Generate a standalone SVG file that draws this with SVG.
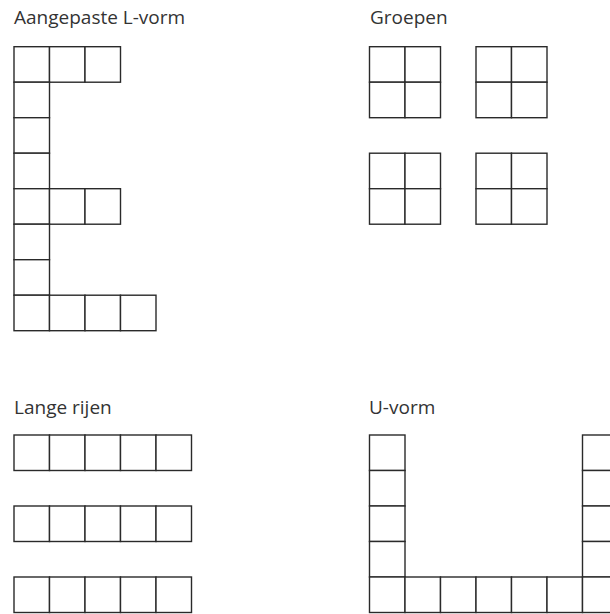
<svg xmlns="http://www.w3.org/2000/svg" xmlns:xlink="http://www.w3.org/1999/xlink" width="610" height="614" viewBox="0 0 610 614">
<style>
.c{fill:#fff;stroke:#2a2a2a;stroke-width:1.4}
.t{font-family:"Open Sans","Noto Sans",sans-serif;font-size:19px;fill:#333}
</style>
<defs>
<rect id="cell" class="c" width="35.5" height="35.5"/>
</defs>
<rect width="610" height="614" fill="#fff"/>
<g id="l-vorm">
<text class="t" x="14" y="24">Aangepaste L-vorm</text>
<use xlink:href="#cell" x="14" y="46.7"/><use xlink:href="#cell" x="49.5" y="46.7"/><use xlink:href="#cell" x="85" y="46.7"/>
<use xlink:href="#cell" x="14" y="82.2"/>
<use xlink:href="#cell" x="14" y="117.7"/>
<use xlink:href="#cell" x="14" y="153.2"/>
<use xlink:href="#cell" x="14" y="188.7"/><use xlink:href="#cell" x="49.5" y="188.7"/><use xlink:href="#cell" x="85" y="188.7"/>
<use xlink:href="#cell" x="14" y="224.2"/>
<use xlink:href="#cell" x="14" y="259.7"/>
<use xlink:href="#cell" x="14" y="295.2"/><use xlink:href="#cell" x="49.5" y="295.2"/><use xlink:href="#cell" x="85" y="295.2"/><use xlink:href="#cell" x="120.5" y="295.2"/>
</g>
<g id="groepen">
<text class="t" x="370" y="24">Groepen</text>
<use xlink:href="#cell" x="369.5" y="46.7"/><use xlink:href="#cell" x="405" y="46.7"/><use xlink:href="#cell" x="369.5" y="82.2"/><use xlink:href="#cell" x="405" y="82.2"/>
<use xlink:href="#cell" x="476" y="46.7"/><use xlink:href="#cell" x="511.5" y="46.7"/><use xlink:href="#cell" x="476" y="82.2"/><use xlink:href="#cell" x="511.5" y="82.2"/>
<use xlink:href="#cell" x="369.5" y="153.2"/><use xlink:href="#cell" x="405" y="153.2"/><use xlink:href="#cell" x="369.5" y="188.7"/><use xlink:href="#cell" x="405" y="188.7"/>
<use xlink:href="#cell" x="476" y="153.2"/><use xlink:href="#cell" x="511.5" y="153.2"/><use xlink:href="#cell" x="476" y="188.7"/><use xlink:href="#cell" x="511.5" y="188.7"/>
</g>
<g id="lange-rijen">
<text class="t" x="14" y="414">Lange rijen</text>
<use xlink:href="#cell" x="14" y="435"/><use xlink:href="#cell" x="49.5" y="435"/><use xlink:href="#cell" x="85" y="435"/><use xlink:href="#cell" x="120.5" y="435"/><use xlink:href="#cell" x="156" y="435"/>
<use xlink:href="#cell" x="14" y="506"/><use xlink:href="#cell" x="49.5" y="506"/><use xlink:href="#cell" x="85" y="506"/><use xlink:href="#cell" x="120.5" y="506"/><use xlink:href="#cell" x="156" y="506"/>
<use xlink:href="#cell" x="14" y="577"/><use xlink:href="#cell" x="49.5" y="577"/><use xlink:href="#cell" x="85" y="577"/><use xlink:href="#cell" x="120.5" y="577"/><use xlink:href="#cell" x="156" y="577"/>
</g>
<g id="u-vorm">
<text class="t" x="369" y="414">U-vorm</text>
<use xlink:href="#cell" x="369.5" y="435"/><use xlink:href="#cell" x="369.5" y="470.5"/><use xlink:href="#cell" x="369.5" y="506"/><use xlink:href="#cell" x="369.5" y="541.5"/>
<use xlink:href="#cell" x="582.5" y="435"/><use xlink:href="#cell" x="582.5" y="470.5"/><use xlink:href="#cell" x="582.5" y="506"/><use xlink:href="#cell" x="582.5" y="541.5"/>
<use xlink:href="#cell" x="369.5" y="577"/><use xlink:href="#cell" x="405" y="577"/><use xlink:href="#cell" x="440.5" y="577"/><use xlink:href="#cell" x="476" y="577"/><use xlink:href="#cell" x="511.5" y="577"/><use xlink:href="#cell" x="547" y="577"/><use xlink:href="#cell" x="582.5" y="577"/>
</g>
</svg>
